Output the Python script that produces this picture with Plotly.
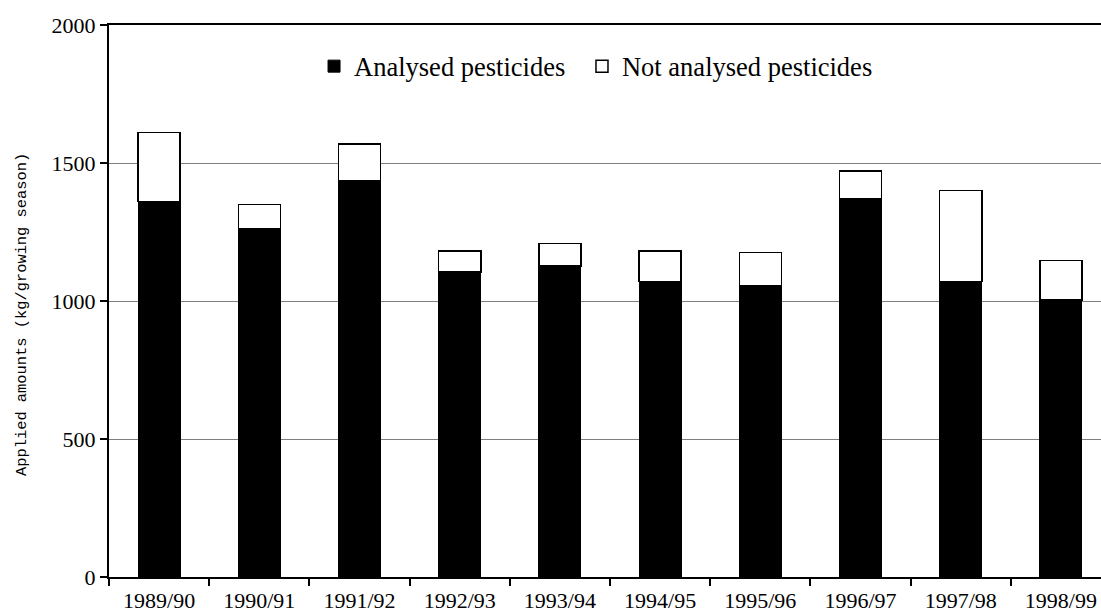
import plotly.graph_objects as go

seasons = ["1989/90", "1990/91", "1991/92", "1992/93", "1993/94",
           "1994/95", "1995/96", "1996/97", "1997/98", "1998/99"]
analysed = [1360, 1260, 1435, 1105, 1126, 1070, 1055, 1371, 1070, 1004]
totals = [1610, 1350, 1569, 1181, 1209, 1181, 1175, 1471, 1400, 1146]
not_analysed = [t - a for t, a in zip(totals, analysed)]

y_ticks = [0, 500, 1000, 1500, 2000]
y_title = "Applied amounts (kg/growing season)"

serif = "Liberation Serif, Times New Roman, serif"

fig = go.Figure()
fig.add_trace(go.Bar(
    x=seasons, y=analysed, name="Analysed pesticides",
    marker=dict(color="black", line=dict(color="black", width=1)),
    width=0.42, legend="legend",
))
fig.add_trace(go.Bar(
    x=seasons, y=not_analysed, name="Not analysed pesticides",
    marker=dict(color="white", line=dict(color="black", width=1.5)),
    width=0.42, legend="legend2",
))

fig.add_annotation(
    text=y_title, textangle=-90,
    xref="paper", yref="paper", x=-0.0877, y=0.4746,
    xanchor="center", yanchor="middle", showarrow=False,
    font=dict(family="Liberation Mono, Courier New, monospace", size=15.4, color="black"),
)

legend_common = dict(
    orientation="h", xanchor="left", y=0.925, yanchor="middle",
    font=dict(family=serif, size=26.5, color="black"),
    bgcolor="rgba(0,0,0,0)",
)

fig.update_layout(
    barmode="stack",
    width=1101, height=613,
    margin=dict(l=109, r=0, t=25, b=36, autoexpand=False),
    paper_bgcolor="white", plot_bgcolor="white",
    font=dict(family=serif, size=22, color="black"),
    showlegend=True,
    legend=dict(x=0.2067, **legend_common),
    legend2=dict(x=0.4768, **legend_common),
    xaxis=dict(
        type="category", range=[-0.5, 9.4], automargin=False,
        showline=True, linecolor="black", linewidth=2, mirror=True,
        ticks="outside", tickson="boundaries", ticklen=7, tickwidth=2, tickcolor="black",
        ticklabelstandoff=3,
        showgrid=False, tickfont=dict(family=serif, size=22, color="black"),
    ),
    yaxis=dict(
        range=[0, 2000], tickvals=y_ticks, automargin=False,
        showline=True, linecolor="black", linewidth=2,
        ticks="outside", ticklen=7, tickwidth=2, tickcolor="black",
        showgrid=True, gridcolor="#7f7f7f", gridwidth=1,
        zeroline=False,
        tickfont=dict(family=serif, size=22, color="black"),
    ),
)

fig.write_html("out.html", config={"displayModeBar": False},
               post_script="document.body.style.margin='0';document.body.style.padding='0';")
